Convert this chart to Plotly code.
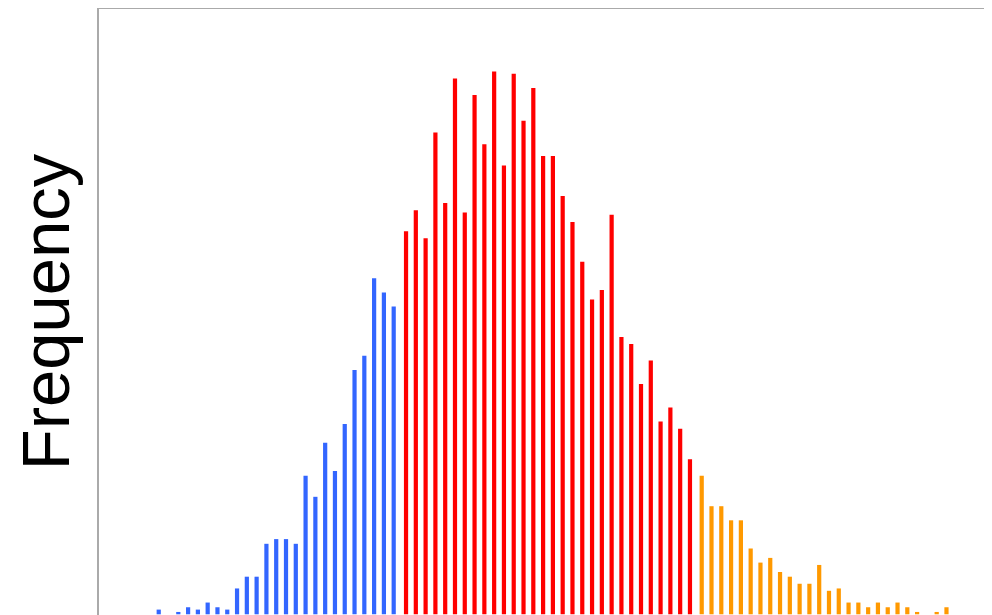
import plotly.graph_objects as go

# Histogram bin counts (bin index -> frequency)
blue_start = 0
blue_counts = [2, 0, 1, 3, 2, 5, 3, 2, 11, 16, 16, 30, 32, 32, 30, 59, 50, 73, 61, 81,
               104, 110, 143, 137, 131]
red_start = 25
red_counts = [163, 172, 160, 205, 175, 228, 171, 221, 200, 231, 191, 230, 210, 224, 195,
              195, 178, 167, 150, 134, 138, 170, 118, 115, 98, 108, 82, 88, 79, 66]
orange_start = 55
orange_counts = [59, 46, 46, 40, 40, 28, 22, 24, 18, 16, 13, 13, 21, 10, 11, 5, 5, 3, 5,
                 3, 5, 3, 1, 0, 1, 3]

y_title = "Frequency"

BW = 0.43
series = [
    (blue_start, blue_counts, "#3366ff", -BW / 2 - 0.26),
    (red_start, red_counts, "#ff0000", -BW / 2),
    (orange_start, orange_counts, "#ff9900", -BW / 2 + 0.2),
]

fig = go.Figure()
for start, counts, color, off in series:
    xs = list(range(start, start + len(counts)))
    fig.add_trace(go.Bar(x=xs, y=counts, width=BW, offset=off,
                         marker=dict(color=color, line=dict(width=0)),
                         showlegend=False))

fig.update_layout(
    width=984, height=607,
    margin=dict(l=91, r=0, t=1, b=0, autoexpand=False),
    barmode="overlay",
    plot_bgcolor="white", paper_bgcolor="white",
    xaxis=dict(range=[-6.36, 84.85], side="top", showline=True, linecolor="#aaaaaa",
               linewidth=2, showgrid=False, zeroline=False, showticklabels=False,
               ticks=""),
    yaxis=dict(range=[-0.3, 257.6], showline=True, linecolor="#aaaaaa", linewidth=2,
               showgrid=False, zeroline=False, showticklabels=False, ticks="",
               automargin=False,
               title=dict(text=y_title, standoff=23,
                          font=dict(family="Liberation Sans, Arial, sans-serif",
                                    size=67, color="black"))),
)

fig.write_html("out.html")
